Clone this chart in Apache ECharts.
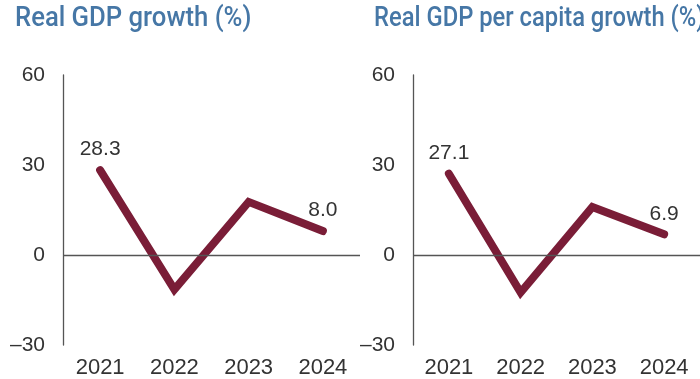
<!DOCTYPE html>
<html>
<head>
<meta charset="utf-8">
<script src="https://cdn.jsdelivr.net/npm/echarts@6/dist/echarts.min.js"></script>
<style>
  html, body { margin: 0; padding: 0; background: #fff; }
  #chart { width: 700px; height: 379px; }
</style>
</head>
<body>
<div id="chart"></div>
<script>
// Years shown on both panels
const years = ['2021', '2022', '2023', '2024'];
// Real GDP growth, %
const gdpGrowth = [28.3, -11.5, 17.7, 8.0];
// Real GDP per capita growth, %
const gdpPerCapitaGrowth = [27.1, -12.5, 16.0, 6.9];
// Panel titles
const panelTitles = ['Real GDP growth (%)', 'Real GDP per capita growth (%)'];
// Value axis ticks
const yTicks = [-30, 0, 30, 60];

const lineColor = '#7a1d37';
const textColor = '#333333';
const titleColor = '#4677a6';
const font = 'Liberation Sans';

const grids = [
  { left: 63, top: 75, width: 297, height: 270 },
  { left: 413, top: 75, width: 297, height: 270 }
];

function xAxisFor(idx) {
  return {
    type: 'category',
    gridIndex: idx,
    data: years,
    boundaryGap: true,
    position: 'bottom',
    axisLine: { show: false },
    axisTick: { show: false },
    axisLabel: { color: textColor, fontSize: 22, fontFamily: font, margin: 12 }
  };
}

function yAxisFor(idx) {
  return {
    type: 'value',
    gridIndex: idx,
    min: yTicks[0],
    max: yTicks[yTicks.length - 1],
    interval: 30,
    axisLine: { show: true, lineStyle: { color: '#555', width: 1.3 } },
    axisTick: { show: false },
    splitLine: { show: false },
    axisLabel: {
      color: textColor, fontSize: 21, fontFamily: font, margin: 18,
      formatter: v => (v < 0 ? '\u2013' + Math.abs(v) : String(v))
    }
  };
}

function seriesFor(idx, values) {
  return {
    type: 'line',
    xAxisIndex: idx,
    yAxisIndex: idx,
    data: values.map((v, i) => ({
      value: v,
      label: { show: i === 0 || i === values.length - 1 }
    })),
    symbol: 'circle',
    symbolSize: 0,
    showAllSymbol: true,
    itemStyle: { color: lineColor },
    lineStyle: { color: lineColor, width: 8, cap: 'round', join: 'miter' },
    label: {
      position: 'top',
      distance: 10,
      color: textColor,
      fontSize: 21,
      fontFamily: font,
      formatter: p => p.value.toFixed(1)
    },
    markLine: {
      silent: true,
      symbol: 'none',
      label: { show: false },
      lineStyle: { color: '#555', width: 1.3, type: 'solid' },
      data: [{ yAxis: 0 }]
    },
    z: 3
  };
}

// Condensed panel headings
function heading(text, x, squeeze) {
  return {
    type: 'text',
    x: x,
    y: 6,
    scaleX: squeeze,
    style: {
      text: text,
      fill: titleColor,
      font: '500 27px Roboto',
      textVerticalAlign: 'top'
    }
  };
}

const chart = echarts.init(document.getElementById('chart'), null, { renderer: 'canvas' });
chart.setOption({
  backgroundColor: '#ffffff',
  animation: false,
  graphic: [
    heading(panelTitles[0], 15, 0.95),
    heading(panelTitles[1], 374, 0.88)
  ],
  grid: grids,
  xAxis: [xAxisFor(0), xAxisFor(1)],
  yAxis: [yAxisFor(0), yAxisFor(1)],
  series: [seriesFor(0, gdpGrowth), seriesFor(1, gdpPerCapitaGrowth)]
});
</script>
</body>
</html>
